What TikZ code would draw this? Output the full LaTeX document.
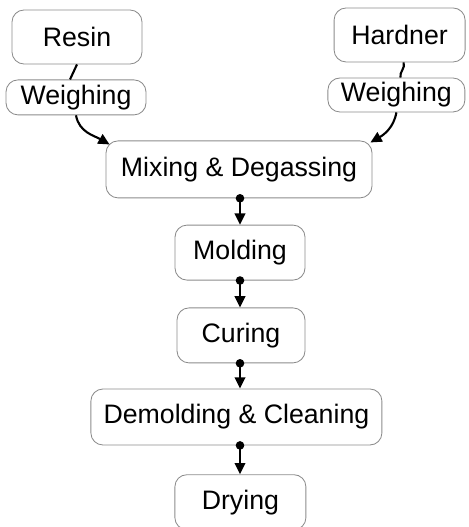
\documentclass[tikz,border=0pt]{standalone}
\usepackage{fontspec}
\setmainfont{Liberation Sans}
\usetikzlibrary{arrows.meta}

\begin{document}
\begin{tikzpicture}[every node/.style={font=\fontsize{19}{22}\selectfont},
    stage/.style={draw=black!45,line width=0.6pt,rounded corners=0.3cm,
                  align=center,inner sep=0pt},
    flow/.style={-{Triangle[length=8pt,width=7.5pt]},line width=1.5pt},
    link/.style={{Circle[length=6pt]}-{Triangle[length=8pt,width=7.5pt]},
                 line width=1.5pt,shorten <=-3pt}]
  \useasboundingbox (0,0) rectangle (11.7,13.175);
  % raw materials
  \node[stage,minimum width=3.25cm,minimum height=1.35cm]
        (resin) at (1.925, 12.25) {Resin};
  \node[stage,minimum width=3.5cm,minimum height=0.875cm]
        (weighA) at (1.9, 10.74) {Weighing};
  \node[stage,minimum width=3.275cm,minimum height=1.35cm]
        (hard) at (9.99, 12.3) {Hardner};
  \node[stage,minimum width=3.425cm,minimum height=0.85cm]
        (weighB) at (9.91, 10.8) {Weighing};
  % process chain
  \node[stage,minimum width=6.65cm,minimum height=1.425cm]
        (mix) at (5.975, 8.94) {Mixing \& Degassing};
  \node[stage,minimum width=3.25cm,minimum height=1.375cm]
        (mold) at (6.0, 6.86) {Molding};
  \node[stage,minimum width=3.2cm,minimum height=1.375cm]
        (cure) at (6.025, 4.79) {Curing};
  \node[stage,minimum width=7.275cm,minimum height=1.4cm]
        (demold) at (5.91, 2.75) {Demolding \& Cleaning};
  \node[stage,minimum width=3.275cm,minimum height=1.375cm]
        (dry) at (6.01, 0.62) {Drying};

  \draw[line width=1.5pt] (resin.south) -- ([xshift=-0.15cm]weighA.north);
  \draw[line width=1.5pt] ([xshift=0.1cm]hard.south)
        to[out=-70,in=100] ([xshift=0.1cm]weighB.north);
  \draw[flow] (weighA.south) to[out=-80,in=150]
        ([shift={(0.1cm,-0.1cm)}]mix.north west);
  \draw[flow] (weighB.south) to[out=-100,in=30]
        ([shift={(-0.05cm,-0.05cm)}]mix.north east);

  \draw[link] (mold.north |- mix.south) -- (mold.north);
  \draw[link] (mold.south) -- (mold.south |- cure.north);
  \draw[link] (mold.south |- cure.south) -- (mold.south |- demold.north);
  \draw[link] (mold.south |- demold.south) -- (mold.south |- dry.north);
\end{tikzpicture}
\end{document}
